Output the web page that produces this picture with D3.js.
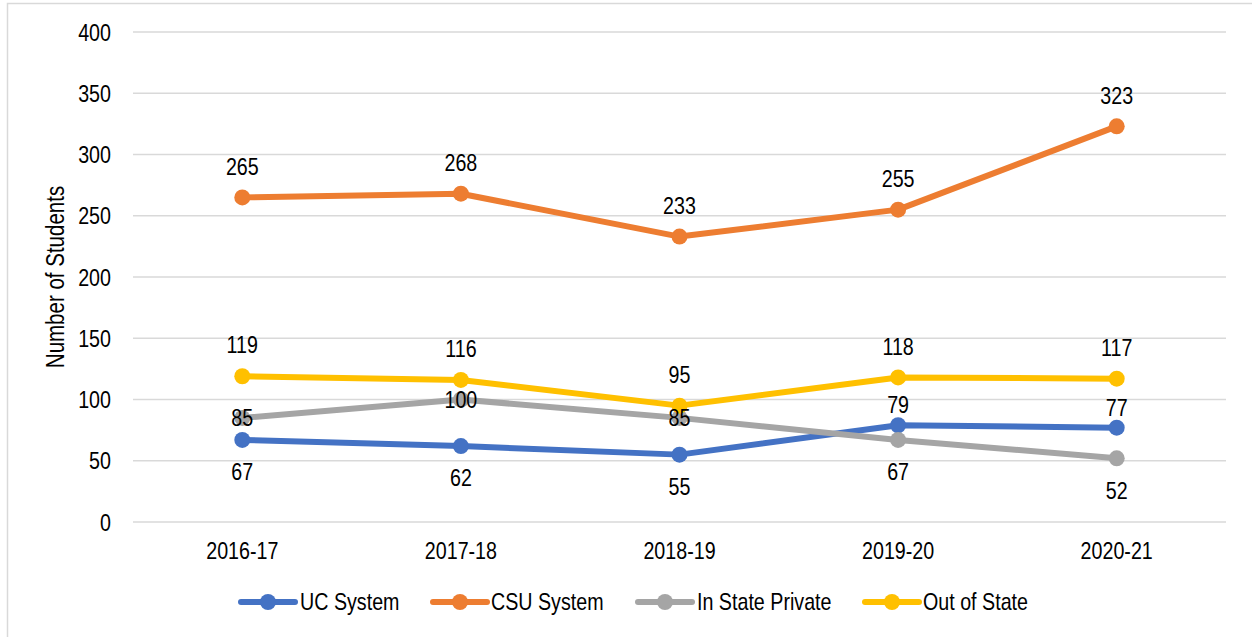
<!DOCTYPE html>
<html>
<head>
<meta charset="utf-8">
<script src="https://cdn.jsdelivr.net/npm/d3@7"></script>
<style>
  html, body { margin: 0; padding: 0; background: #fff; }
  svg { display: block; }
  text { font-family: "Liberation Sans", Arial, sans-serif; fill: #000; }
</style>
</head>
<body>
<svg id="chart" width="1252" height="637"></svg>
<script>
// ---- data ----
const years = ["2016-17", "2017-18", "2018-19", "2019-20", "2020-21"];
const ucSystem = [67, 62, 55, 79, 77];
const csuSystem = [265, 268, 233, 255, 323];
const inStatePrivate = [85, 100, 85, 67, 52];
const outOfState = [119, 116, 95, 118, 117];
const yTicks = [0, 50, 100, 150, 200, 250, 300, 350, 400];
const seriesNames = ["UC System", "CSU System", "In State Private", "Out of State"];
// data-label placement keywords
const ucLabelPos = ["below", "below", "below", "aboveNear", "aboveNear"];
const csuLabelPos = ["above", "above", "above", "above", "above"];
const privateLabelPos = ["center", "center", "center", "below", "below"];
const outLabelPos = ["above", "above", "above", "above", "above"];

const colors = ["#4472C4", "#ED7D31", "#A5A5A5", "#FFC000"];
const series = [
  { name: seriesNames[0], values: ucSystem, pos: ucLabelPos, color: colors[0] },
  { name: seriesNames[1], values: csuSystem, pos: csuLabelPos, color: colors[1] },
  { name: seriesNames[2], values: inStatePrivate, pos: privateLabelPos, color: colors[2] },
  { name: seriesNames[3], values: outOfState, pos: outLabelPos, color: colors[3] }
];

const NARROW = 0.82; // emulate Arial Narrow
const svg = d3.select("#chart");
const W = 1252, H = 637;
const plot = { left: 133, right: 1226, top: 32, bottom: 522 };

// outer border
svg.append("rect")
  .attr("x", 7.5).attr("y", 3.5)
  .attr("width", W + 10).attr("height", H + 10)
  .attr("fill", "#fff").attr("stroke", "#D9D9D9").attr("stroke-width", 1.5);

const x = d3.scaleBand().domain(years).range([plot.left, plot.right]);
const y = d3.scaleLinear().domain([0, 400]).range([plot.bottom, plot.top]);

// gridlines
svg.append("g").selectAll("line").data(yTicks).join("line")
  .attr("x1", plot.left).attr("x2", plot.right)
  .attr("y1", d => y(d)).attr("y2", d => y(d))
  .attr("stroke", "#D9D9D9").attr("stroke-width", 1.5);

// y axis labels
const yAxis = d3.axisLeft(y).tickValues(yTicks).tickSize(0).tickPadding(22);
const gy = svg.append("g").attr("transform", `translate(${plot.left},0)`).call(yAxis);
gy.select(".domain").remove();
gy.attr("font-family", null).attr("font-size", null);
gy.selectAll("text")
  .attr("x", 0).attr("dy", null)
  .attr("dominant-baseline", "central")
  .attr("font-size", 24).attr("fill", "#000")
  .attr("transform", `translate(-22,0) scale(${NARROW},1)`);

// x axis labels
const xAxis = d3.axisBottom(x).tickSize(0).tickPadding(0);
const gx = svg.append("g").attr("transform", `translate(0,${plot.bottom})`).call(xAxis);
gx.select(".domain").remove();
gx.attr("font-family", null).attr("font-size", null);
gx.selectAll("text")
  .attr("y", 0).attr("dy", null)
  .attr("dominant-baseline", "central")
  .attr("font-size", 24).attr("fill", "#000")
  .attr("transform", `translate(0,29) scale(${NARROW},1)`);

// y title
svg.append("text")
  .attr("transform", `translate(55,${(plot.top + plot.bottom) / 2}) rotate(-90) scale(${NARROW},1)`)
  .attr("text-anchor", "middle").attr("dominant-baseline", "central")
  .attr("font-size", 25)
  .text("Number of Students");

const cx = d => x(d) + x.bandwidth() / 2;
const line = d3.line().x(d => cx(d.year)).y(d => y(d.value));

series.forEach(s => {
  const pts = years.map((yr, i) => ({ year: yr, value: s.values[i], pos: s.pos[i] }));
  const g = svg.append("g");
  g.append("path").datum(pts)
    .attr("d", line).attr("fill", "none")
    .attr("stroke", s.color).attr("stroke-width", 6)
    .attr("stroke-linejoin", "round").attr("stroke-linecap", "round");
  g.selectAll("circle").data(pts).join("circle")
    .attr("cx", d => cx(d.year)).attr("cy", d => y(d.value))
    .attr("r", 8).attr("fill", s.color);
  s.pts = pts;
});

// data labels drawn on top
const offs = { above: -31, aboveNear: -20, below: 32, center: 0 };
series.forEach(s => {
  svg.append("g").selectAll("text").data(s.pts).join("text")
    .attr("transform", d => `translate(${cx(d.year)},${y(d.value) + offs[d.pos]}) scale(${NARROW},1)`)
    .attr("text-anchor", "middle").attr("dominant-baseline", "central")
    .attr("font-size", 24)
    .text(d => d.value);
});

// legend
const legendItems = [
  { lineX: 241, textX: 300 },
  { lineX: 433, textX: 491 },
  { lineX: 638, textX: 697 },
  { lineX: 865, textX: 923 }
];
const ly = 602;
const lg = svg.append("g");
series.forEach((s, i) => {
  const it = legendItems[i];
  lg.append("line").attr("x1", it.lineX).attr("x2", it.lineX + 54)
    .attr("y1", ly).attr("y2", ly)
    .attr("stroke", s.color).attr("stroke-width", 6).attr("stroke-linecap", "round");
  lg.append("circle").attr("cx", it.lineX + 27).attr("cy", ly).attr("r", 8).attr("fill", s.color);
  lg.append("text")
    .attr("transform", `translate(${it.textX},${ly}) scale(${NARROW},1)`)
    .attr("dominant-baseline", "central").attr("font-size", 24)
    .text(s.name);
});
</script>
</body>
</html>
